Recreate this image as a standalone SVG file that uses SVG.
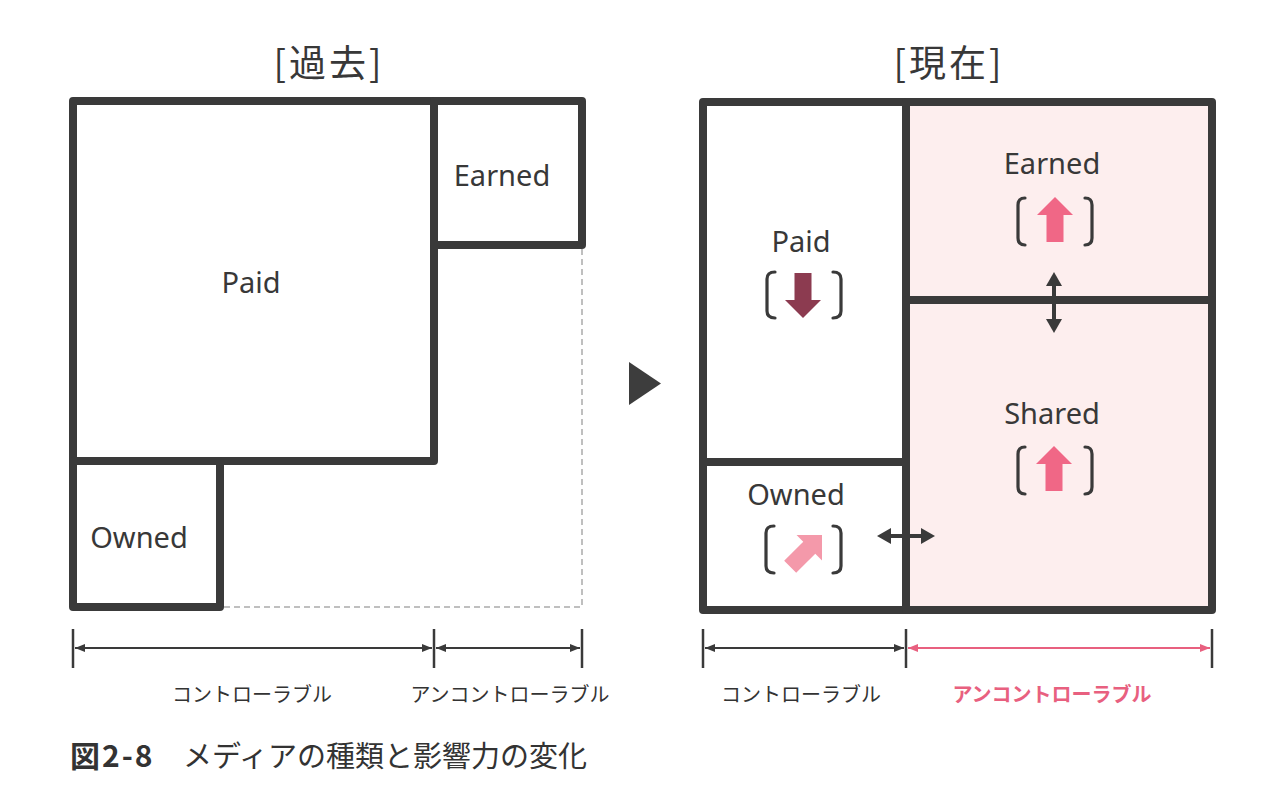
<svg xmlns="http://www.w3.org/2000/svg" width="1280" height="802" viewBox="0 0 1280 802">
<style>
.box{fill:#ffffff;stroke:#3a3a3a;stroke-width:8;stroke-linejoin:round}
.pbox{fill:#fdeeee;stroke:#3a3a3a;stroke-width:8;stroke-linejoin:round}
.lbl{font-family:"Noto Sans","Noto Sans CJK JP",sans-serif;font-size:29px;fill:#383838;text-anchor:middle}
.ttl{font-family:"Noto Sans CJK JP","Noto Sans",sans-serif;font-size:37px;fill:#383838;text-anchor:middle;letter-spacing:3px}
.dim{font-family:"Noto Sans CJK JP",sans-serif;font-size:20px;fill:#333333;text-anchor:middle}
.dimp{font-family:"Noto Sans CJK JP",sans-serif;font-size:20px;fill:#e8607f;text-anchor:middle;font-weight:bold}
.brk{fill:none;stroke:#3a3a3a;stroke-width:3.2;stroke-linecap:round}
.tick{stroke:#3a3a3a;stroke-width:2.5}
.dl{stroke:#3a3a3a;stroke-width:2;fill:none}
.dlp{stroke:#e8607f;stroke-width:2;fill:none}
.dbl{stroke:#3a3a3a;stroke-width:4;fill:none}
.dash{stroke:#aaaaaa;stroke-width:1.5;stroke-dasharray:6 4;fill:none}
</style>
<defs>
<path id="up" d="M0,0 L18,18 L8.5,18 L8.5,45 L-8.5,45 L-8.5,18 L-18,18 Z"/>
<marker id="dh" viewBox="0 0 14 16" refX="4" refY="8" markerWidth="14" markerHeight="16" markerUnits="userSpaceOnUse" orient="auto-start-reverse">
<path d="M0,0 L14,8 L0,16 Z" fill="#3a3a3a"/>
</marker>
<marker id="sh" viewBox="0 0 10 8" refX="10" refY="4" markerWidth="10" markerHeight="8" markerUnits="userSpaceOnUse" orient="auto-start-reverse">
<path d="M0,0 L10,4 L0,8 Z" fill="#3a3a3a"/>
</marker>
<marker id="shp" viewBox="0 0 10 8" refX="10" refY="4" markerWidth="10" markerHeight="8" markerUnits="userSpaceOnUse" orient="auto-start-reverse">
<path d="M0,0 L10,4 L0,8 Z" fill="#e8607f"/>
</marker>
</defs>
<rect width="1280" height="802" fill="#ffffff"/>

<text class="ttl" x="329" y="77">[過去]</text>
<text class="ttl" x="949" y="77">[現在]</text>

<!-- past panel -->
<path class="dash" d="M582,249 L582,607 L224,607"/>
<g id="past-paid">
<rect class="box" x="73" y="101" width="361" height="360"/>
<text class="lbl" x="251" y="293">Paid</text>
</g>
<g id="past-earned">
<rect class="box" x="434" y="101" width="148" height="144"/>
<text class="lbl" x="502" y="186">Earned</text>
</g>
<g id="past-owned">
<rect class="box" x="73" y="461" width="147" height="146"/>
<text class="lbl" x="139" y="548">Owned</text>
</g>

<polygon id="transition" points="629,362 629,405 661,383.5" fill="#3d3d3d"/>

<!-- present panel -->
<g id="now-paid">
<rect class="box" x="703" y="102" width="203" height="360"/>
<text class="lbl" x="801" y="252">Paid</text>
<path class="brk" d="M775,272 Q767,272 767,279 L767,311 Q767,318 775,318"/>
<path class="brk" d="M833,272 Q841,272 841,279 L841,311 Q841,318 833,318"/>
<use href="#up" transform="translate(803,318) rotate(180)" fill="#8c3b50"/>
</g>
<g id="now-owned">
<rect class="box" x="703" y="462" width="203" height="148"/>
<text class="lbl" x="796" y="505">Owned</text>
<path class="brk" d="M774,526 Q766,526 766,533 L766,566 Q766,573 774,573"/>
<path class="brk" d="M833,526 Q841,526 841,533 L841,566 Q841,573 833,573"/>
<use href="#up" transform="translate(822,535) rotate(45)" fill="#f499aa"/>
</g>
<g id="now-earned">
<rect class="pbox" x="906" y="102" width="306" height="198"/>
<text class="lbl" x="1052" y="174">Earned</text>
<path class="brk" d="M1025,198 Q1018,198 1018,205 L1018,238 Q1018,245 1025,245"/>
<path class="brk" d="M1085,198 Q1092,198 1092,205 L1092,238 Q1092,245 1085,245"/>
<use href="#up" transform="translate(1055,197)" fill="#f06786"/>
</g>
<g id="now-shared">
<rect class="pbox" x="906" y="300" width="306" height="310"/>
<text class="lbl" x="1052" y="424">Shared</text>
<path class="brk" d="M1025,447 Q1018,447 1018,454 L1018,487 Q1018,494 1025,494"/>
<path class="brk" d="M1085,447 Q1092,447 1092,454 L1092,487 Q1092,494 1085,494"/>
<use href="#up" transform="translate(1054,446)" fill="#f06786"/>
</g>

<g id="connectors">
<line class="dbl" x1="1054" y1="282" x2="1054" y2="323" marker-start="url(#dh)" marker-end="url(#dh)"/>
<line class="dbl" x1="887" y1="536" x2="925" y2="536" marker-start="url(#dh)" marker-end="url(#dh)"/>
</g>

<!-- dimension lines -->
<g id="dimensions">
<line class="tick" x1="73" y1="629" x2="73" y2="668"/>
<line class="tick" x1="434" y1="629" x2="434" y2="668"/>
<line class="tick" x1="582" y1="629" x2="582" y2="668"/>
<line class="dl" x1="75" y1="648" x2="432" y2="648" marker-start="url(#sh)" marker-end="url(#sh)"/>
<line class="dl" x1="436" y1="648" x2="580" y2="648" marker-start="url(#sh)" marker-end="url(#sh)"/>
<text class="dim" x="252" y="702">コントローラブル</text>
<text class="dim" x="510" y="702">アンコントローラブル</text>

<line class="tick" x1="703" y1="629" x2="703" y2="668"/>
<line class="tick" x1="906" y1="629" x2="906" y2="668"/>
<line class="tick" x1="1212" y1="629" x2="1212" y2="668"/>
<line class="dl" x1="705" y1="648" x2="904" y2="648" marker-start="url(#sh)" marker-end="url(#sh)"/>
<line class="dlp" x1="908" y1="648" x2="1210" y2="648" marker-start="url(#shp)" marker-end="url(#shp)"/>
<text class="dim" x="801" y="702">コントローラブル</text>
<text class="dimp" x="1052" y="702">アンコントローラブル</text>
</g>

<text x="70" y="767" font-family="Noto Sans CJK JP, sans-serif" font-size="29" fill="#333333"><tspan font-weight="bold" font-size="30" letter-spacing="2">図2-8</tspan><tspan x="183">メディアの種類と影響力の変化</tspan></text>
</svg>
